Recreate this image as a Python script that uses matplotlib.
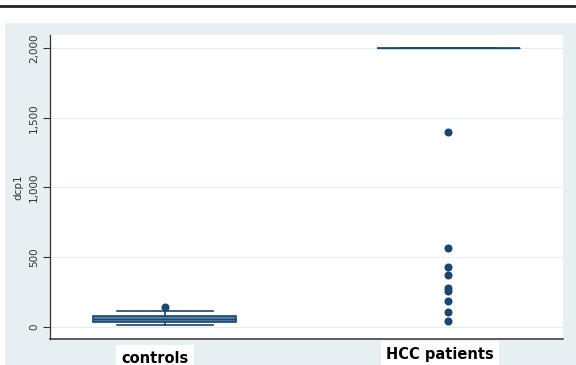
import matplotlib.pyplot as plt
from matplotlib.patches import Rectangle
from matplotlib.lines import Line2D
from matplotlib.ticker import FuncFormatter

# group summaries for dcp1
groups = ["controls", "HCC patients"]
q1 = [36, 2000]
median = [57, 2000]
q3 = [79, 2000]
whislo = [16, 2000]
whishi = [115, 2000]
fliers = [
    [140],
    [1400, 565, 428, 375, 282, 258, 186, 105, 45],
]

yticks = [0, 500, 1000, 1500, 2000]

navy = "#1a476f"
panel = "#e8eff3"

fig = plt.figure(figsize=(5.76, 3.65), dpi=100)
fig.patch.set_facecolor("white")

# grey graph region and rule at the top
fig.add_artist(Rectangle((5 / 576, 0), 1, (365 - 23) / 365,
                         transform=fig.transFigure, facecolor=panel,
                         edgecolor="none", zorder=-10))
fig.add_artist(Line2D([0, 1], [1 - 6 / 365, 1 - 6 / 365],
                      transform=fig.transFigure, color="#222222", lw=2))

ax = fig.add_axes([50 / 576, (365 - 339) / 365, 513 / 576, 304 / 365])
ax.set_facecolor("white")

stats = []
for i in range(len(groups)):
    stats.append({
        "label": groups[i], "q1": q1[i], "med": median[i], "q3": q3[i],
        "whislo": whislo[i], "whishi": whishi[i], "fliers": fliers[i],
    })

ax.bxp(stats, positions=[1, 2], widths=0.505, capwidths=0.336,
       patch_artist=True, showfliers=True,
       boxprops=dict(facecolor="#5a7fa6", edgecolor=navy, linewidth=1.2),
       medianprops=dict(color=navy, linewidth=1.0),
       whiskerprops=dict(color=navy, linewidth=1.2),
       capprops=dict(color=navy, linewidth=1.2),
       flierprops=dict(marker="o", markerfacecolor=navy, markeredgecolor=navy,
                       markersize=4.8))

ax.set_xlim(0.594, 2.406)
ax.set_ylim(-86, 2093)
ax.set_yticks(yticks)
ax.yaxis.set_major_formatter(FuncFormatter(lambda v, p: f"{int(v):,}"))
ax.grid(axis="y", color="#e6eef0", linewidth=0.8)
ax.set_axisbelow(True)
for lab in ax.get_yticklabels():
    lab.set_rotation(90)
    lab.set_verticalalignment("center")
ax.tick_params(axis="y", labelsize=7.5, length=5, width=0.8, colors="#333333",
               pad=3)
ax.tick_params(axis="x", bottom=False, labelbottom=False)
ax.set_ylabel("dcp1", fontsize=7.5, color="#333333", labelpad=4)

for side in ["top", "right"]:
    ax.spines[side].set_visible(False)
ax.spines["left"].set_color("#333333")
ax.spines["bottom"].set_color("#333333")
ax.spines["left"].set_linewidth(0.9)
ax.spines["bottom"].set_linewidth(1.1)

# category names on white boxes below the axis
fig.text(155 / 576, 1 - 363 / 365, groups[0], fontsize=10.5, fontweight="bold",
         family="DejaVu Sans", ha="center", va="baseline",
         bbox=dict(facecolor="white", edgecolor="none", pad=4))
fig.text(440 / 576, 1 - 359 / 365, groups[1], fontsize=10.5, fontweight="bold",
         family="DejaVu Sans", ha="center", va="baseline",
         bbox=dict(facecolor="white", edgecolor="none", pad=4))

fig.savefig("out.png", dpi=100)
